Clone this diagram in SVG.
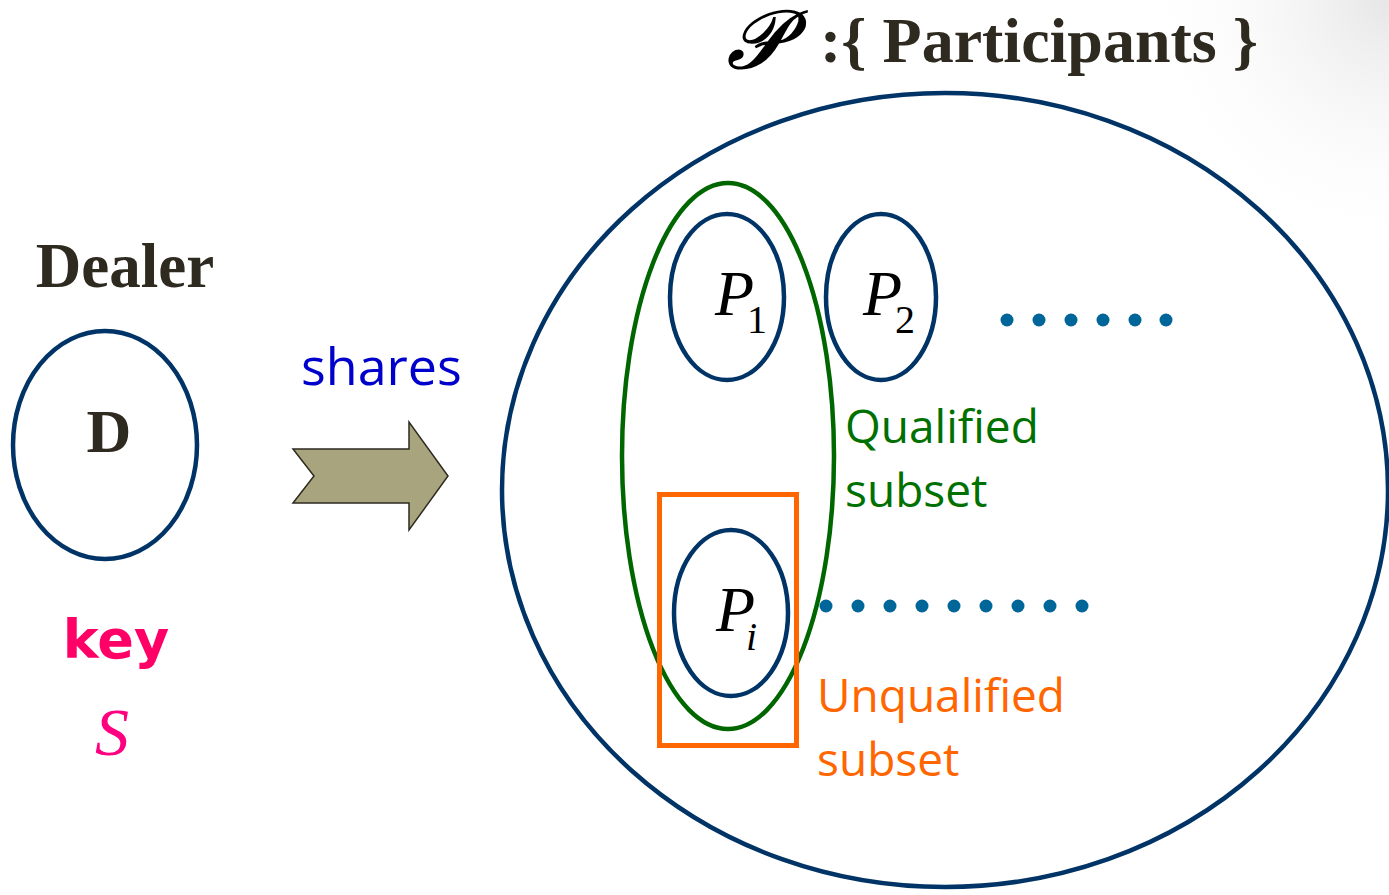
<svg xmlns="http://www.w3.org/2000/svg" width="1389" height="895" viewBox="0 0 1389 895">
  <defs>
    <radialGradient id="corner" cx="1389" cy="0" r="260" gradientUnits="userSpaceOnUse">
      <stop offset="0" stop-color="#e6e6e6"/>
      <stop offset="1" stop-color="#ffffff" stop-opacity="0"/>
    </radialGradient>
  </defs>
  <style>
    .ring { fill: none; stroke: #003366; stroke-width: 4.5; }
    .serif-b { font-family: "Liberation Serif", "Times New Roman", serif; font-weight: bold; fill: #2e2a20; }
    .pvar { font-family: "Liberation Serif", "Times New Roman", serif; font-style: italic; fill: #000; font-size: 64px; }
    .psub { font-style: normal; font-size: 40px; }
    .psub-i { font-style: italic; font-size: 40px; }
    .sans { font-family: "Open Sans", "Noto Sans", sans-serif; }
    .dot { fill: #006699; }
  </style>

  <rect width="1389" height="895" fill="#ffffff"/>
  <rect width="1389" height="895" fill="url(#corner)"/>

  <!-- title -->
  <g id="title">
    <text x="727" y="68" font-family="'DejaVu Serif', 'Liberation Serif', serif" font-style="italic" font-size="82" fill="#000" stroke="#000" stroke-width="1.6">𝒫</text>
    <text x="820" y="62" class="serif-b" font-size="64">:{ Participants }</text>
  </g>

  <!-- dealer -->
  <g id="dealer">
    <text x="125" y="287" class="serif-b" font-size="63" text-anchor="middle">Dealer</text>
    <ellipse cx="105" cy="445" rx="92" ry="114" class="ring"/>
    <text x="109" y="452" class="serif-b" font-size="62" text-anchor="middle">D</text>
  </g>

  <!-- secret key -->
  <g id="key">
    <text x="116" y="658" font-family="'DejaVu Sans', sans-serif" font-weight="bold" font-size="54" fill="#ff0066" text-anchor="middle">key</text>
    <text x="112" y="755" font-family="'Liberation Serif', serif" font-style="italic" font-size="68" fill="#ff0080" text-anchor="middle">S</text>
  </g>

  <!-- shares arrow -->
  <g id="connectors">
    <text x="301" y="385" class="sans" font-size="52" fill="#0000cc">shares</text>
    <polygon points="293,449 409,449 409,422 448,476 409,530 409,503 293,503 314,476" fill="#a8a57e" stroke="#2e2a20" stroke-width="1.5"/>
  </g>

  <!-- participant set -->
  <g id="participants">
    <ellipse cx="945" cy="490" rx="443" ry="397" class="ring"/>
  </g>

  <!-- qualified subset -->
  <g id="qualified">
    <ellipse cx="728" cy="456" rx="106" ry="273" fill="none" stroke="#006600" stroke-width="4.5"/>
    <text class="sans" font-size="46" fill="#007000"><tspan x="845" y="443">Qualified</tspan><tspan x="845" y="507">subset</tspan></text>
  </g>

  <!-- unqualified subset -->
  <g id="unqualified">
    <rect x="659.5" y="494.5" width="137" height="251" fill="none" stroke="#ff6600" stroke-width="5"/>
    <text class="sans" font-size="46" fill="#ff6600"><tspan x="817" y="712">Unqualified</tspan><tspan x="817" y="776">subset</tspan></text>
  </g>

  <g id="p1">
    <ellipse cx="727" cy="297" rx="57" ry="83" class="ring"/>
    <text x="715" y="315" class="pvar">P<tspan class="psub" dx="-7" dy="18">1</tspan></text>
  </g>

  <g id="p2">
    <ellipse cx="881" cy="297" rx="55" ry="83" class="ring"/>
    <text x="863" y="315" class="pvar">P<tspan class="psub" dx="-7" dy="18">2</tspan></text>
  </g>

  <g id="pi">
    <ellipse cx="731" cy="613" rx="57" ry="83" class="ring"/>
    <text x="716" y="631" class="pvar">P<tspan class="psub-i" dx="-9" dy="19">i</tspan></text>
  </g>

  <!-- ellipsis rows -->
  <g id="dots-upper">
    <circle cx="1007" cy="320" r="6.5" class="dot"/>
    <circle cx="1039" cy="320" r="6.5" class="dot"/>
    <circle cx="1071" cy="320" r="6.5" class="dot"/>
    <circle cx="1103" cy="320" r="6.5" class="dot"/>
    <circle cx="1135" cy="320" r="6.5" class="dot"/>
    <circle cx="1166" cy="320" r="6.5" class="dot"/>
  </g>
  <g id="dots-lower">
    <circle cx="826" cy="606" r="6.5" class="dot"/>
    <circle cx="858" cy="606" r="6.5" class="dot"/>
    <circle cx="890" cy="606" r="6.5" class="dot"/>
    <circle cx="922" cy="606" r="6.5" class="dot"/>
    <circle cx="954" cy="606" r="6.5" class="dot"/>
    <circle cx="986" cy="606" r="6.5" class="dot"/>
    <circle cx="1018" cy="606" r="6.5" class="dot"/>
    <circle cx="1050" cy="606" r="6.5" class="dot"/>
    <circle cx="1082" cy="606" r="6.5" class="dot"/>
  </g>
</svg>
